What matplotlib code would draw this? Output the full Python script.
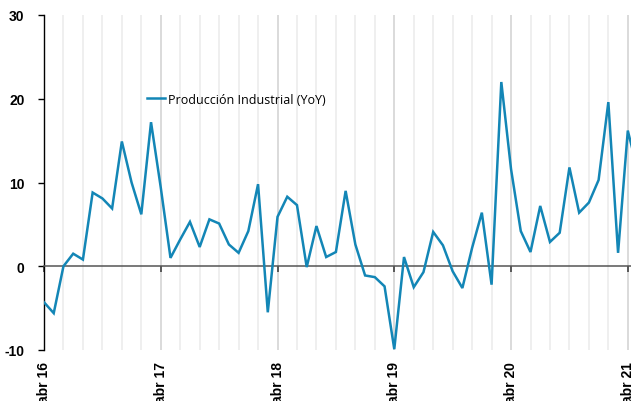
import matplotlib
matplotlib.use("Agg")
import matplotlib.pyplot as plt
import matplotlib.transforms as mtransforms
import numpy as np

values = [-4.3, -5.6, 0.0, 1.5, 0.8, 8.8, 8.1, 6.9, 14.9, 10.0, 6.2, 17.2,
          9.4, 1.0, 3.2, 5.3, 2.3, 5.6, 5.1, 2.6, 1.6, 4.2, 9.8, -5.5,
          5.9, 8.3, 7.3, -0.1, 4.8, 1.1, 1.7, 9.0, 2.6, -1.1, -1.3, -2.4,
          -9.9, 1.1, -2.5, -0.7, 4.1, 2.5, -0.6, -2.6, 2.2, 6.4, -2.2, 22.0,
          11.6, 4.2, 1.7, 7.2, 2.9, 4.0, 11.8, 6.4, 7.6, 10.3, 19.6, 1.6,
          16.2, 11.5]
year_labels = ["abr 16", "abr 17", "abr 18", "abr 19", "abr 20", "abr 21"]
series_name = "Producción Industrial (YoY)"
y_ticks = [-10, 0, 10, 20, 30]

months = np.arange(len(values))
year_pos = np.arange(0, 61, 12)

fig = plt.figure(figsize=(6.31, 4.02), dpi=100)
ax = fig.add_axes([44/631, 1-351/402, 1-44/631, (351-16)/402])

# gridlines every 2 months
for m in range(2, 62, 2):
    c = "#dadada" if m % 12 == 0 else "#efefef"
    ax.axvline(m, color=c, lw=1.4, zorder=0)

ax.plot(months, values, color="#1386b6", lw=1.8, zorder=3, label=series_name,
        solid_joinstyle="miter")

ax.set_xlim(0, (631-44)/9.73)
ax.set_ylim(-10, 30)
ax.set_yticks(y_ticks)
ax.set_yticklabels([str(v) for v in y_ticks], fontfamily="Liberation Sans",
                   fontweight="bold", fontsize=10)
ax.tick_params(axis="y", direction="out", length=4, width=1, colors="black", pad=10)

for s in ["top", "right"]:
    ax.spines[s].set_visible(False)
ax.spines["left"].set_color("black")
ax.spines["left"].set_linewidth(1)
ax.spines["bottom"].set_position(("data", 0))
ax.spines["bottom"].set_color("#555555")
ax.spines["bottom"].set_linewidth(1.1)
ax.set_xticks(year_pos)
ax.set_xticklabels([])
ax.tick_params(axis="x", direction="out", length=4, width=1.1, colors="#333333")

trans = mtransforms.blended_transform_factory(ax.transData, ax.transAxes)
for p, lab in zip(year_pos, year_labels):
    ax.text(p, -0.033, lab, transform=trans, rotation=90, ha="center", va="top",
            fontfamily="Liberation Sans", fontweight="bold", fontsize=10, color="black")

leg = ax.legend(loc="center left", bbox_to_anchor=(147/631, 1-100/402),
                bbox_transform=fig.transFigure, frameon=False, handlelength=1.4,
                handletextpad=0.25, borderaxespad=0, borderpad=0,
                prop={"family": "Open Sans", "size": 9})

fig.savefig("out.png", dpi=100)
